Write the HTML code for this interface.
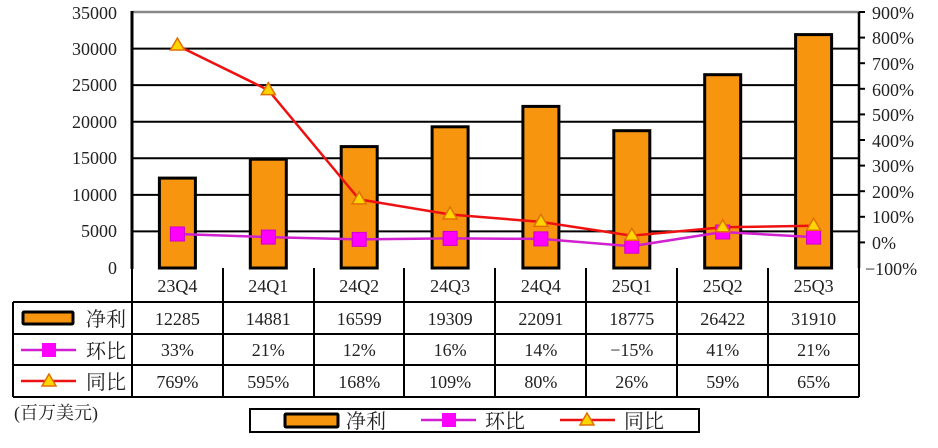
<!DOCTYPE html>
<html><head><meta charset="utf-8"><style>
html,body{margin:0;padding:0;background:#fff;width:938px;height:448px;overflow:hidden}
text{font-family:"Liberation Serif","Noto Serif CJK SC",serif;font-size:18px;fill:#222}
text.cj{font-size:20px}
</style></head><body>
<svg width="938" height="448" viewBox="0 0 938 448" xmlns="http://www.w3.org/2000/svg">
<g stroke="#000" stroke-width="2">
<line x1="132" y1="231.4" x2="859" y2="231.4"/><line x1="132" y1="194.9" x2="859" y2="194.9"/>
<line x1="132" y1="158.3" x2="859" y2="158.3"/><line x1="132" y1="121.7" x2="859" y2="121.7"/>
<line x1="132" y1="85.1" x2="859" y2="85.1"/><line x1="132" y1="48.6" x2="859" y2="48.6"/>
</g>
<line x1="132" y1="12" x2="859" y2="12" stroke="#888" stroke-width="2.5"/>
<g fill="#f7950f" stroke="#000" stroke-width="3">
<rect x="159.4" y="178.1" width="36" height="89.9"/>
<rect x="250.3" y="159.2" width="36" height="108.8"/>
<rect x="341.2" y="146.6" width="36" height="121.4"/>
<rect x="432.1" y="126.8" width="36" height="141.2"/>
<rect x="522.9" y="106.4" width="36" height="161.6"/>
<rect x="613.8" y="130.7" width="36" height="137.3"/>
<rect x="704.7" y="74.7" width="36" height="193.3"/>
<rect x="795.6" y="34.6" width="36" height="233.4"/>
</g>
<polyline fill="none" stroke="#e11" stroke-width="2.5" points="177.4,45.5 268.3,90.1 359.2,199.4 450.1,214.5 540.9,221.9 631.8,235.7 722.7,227.3 813.6,225.8"/>
<polyline fill="none" stroke="#d020d0" stroke-width="2.5" points="177.4,234 268.3,237.1 359.2,239.4 450.1,238.4 540.9,238.9 631.8,246.2 722.7,232 813.6,237.1"/>
<g fill="#ff00ff" stroke="#c0c" stroke-width="1">
<rect x="170.4" y="227" width="14" height="14"/><rect x="261.3" y="230.1" width="14" height="14"/>
<rect x="352.2" y="232.4" width="14" height="14"/><rect x="443.1" y="231.4" width="14" height="14"/>
<rect x="533.9" y="231.9" width="14" height="14"/><rect x="624.8" y="239.2" width="14" height="14"/>
<rect x="715.7" y="225" width="14" height="14"/><rect x="806.6" y="230.1" width="14" height="14"/>
</g>
<g fill="#ffd400" stroke="#e07000" stroke-width="1.5">
<path d="M177.4,38 l7,12 h-14z"/><path d="M268.3,82.6 l7,12 h-14z"/><path d="M359.2,191.9 l7,12 h-14z"/>
<path d="M450.1,207 l7,12 h-14z"/><path d="M540.9,214.4 l7,12 h-14z"/><path d="M631.8,228.2 l7,12 h-14z"/>
<path d="M722.7,219.8 l7,12 h-14z"/><path d="M813.6,218.3 l7,12 h-14z"/>
</g>
<line x1="132" y1="11" x2="132" y2="269" stroke="#000" stroke-width="3"/>
<line x1="859" y1="12" x2="859" y2="268" stroke="#000" stroke-width="2.5"/>
<g stroke="#000" stroke-width="2">
<line x1="859" y1="37.6" x2="865" y2="37.6"/><line x1="859" y1="63.2" x2="865" y2="63.2"/><line x1="859" y1="88.8" x2="865" y2="88.8"/>
<line x1="859" y1="114.4" x2="865" y2="114.4"/><line x1="859" y1="140" x2="865" y2="140"/><line x1="859" y1="165.6" x2="865" y2="165.6"/>
<line x1="859" y1="191.2" x2="865" y2="191.2"/><line x1="859" y1="216.8" x2="865" y2="216.8"/><line x1="859" y1="242.4" x2="865" y2="242.4"/>
<line x1="859" y1="12" x2="865" y2="12"/>
</g>
<g text-anchor="end">
<text x="117" y="19">35000</text><text x="117" y="55">30000</text><text x="117" y="91">25000</text>
<text x="117" y="128">20000</text><text x="117" y="164">15000</text><text x="117" y="201">10000</text>
<text x="117" y="237">5000</text><text x="117" y="274">0</text>
</g>
<g>
<text x="872" y="19">900%</text><text x="872" y="44">800%</text><text x="872" y="70">700%</text>
<text x="872" y="96">600%</text><text x="872" y="121">500%</text><text x="872" y="147">400%</text>
<text x="872" y="172">300%</text><text x="872" y="198">200%</text><text x="872" y="223">100%</text>
<text x="872" y="249">0%</text><text x="865" y="275">−100%</text>
</g>
<g stroke="#000" stroke-width="2" fill="none">
<line x1="132" y1="268" x2="132" y2="397"/>
<line x1="223" y1="268" x2="223" y2="397"/><line x1="314" y1="268" x2="314" y2="397"/>
<line x1="404" y1="268" x2="404" y2="397"/><line x1="495" y1="268" x2="495" y2="397"/>
<line x1="586" y1="268" x2="586" y2="397"/><line x1="677" y1="268" x2="677" y2="397"/>
<line x1="768" y1="268" x2="768" y2="397"/><line x1="859" y1="268" x2="859" y2="397"/>
<line x1="13" y1="302" x2="859" y2="302"/><line x1="13" y1="334" x2="859" y2="334"/>
<line x1="13" y1="365" x2="859" y2="365"/><line x1="13" y1="397" x2="859" y2="397"/>
<line x1="13" y1="302" x2="13" y2="397"/>
</g>
<g text-anchor="middle">
<text x="177.4" y="292">23Q4</text><text x="268.3" y="292">24Q1</text><text x="359.2" y="292">24Q2</text><text x="450.1" y="292">24Q3</text>
<text x="540.9" y="292">24Q4</text><text x="631.8" y="292">25Q1</text><text x="722.7" y="292">25Q2</text><text x="813.6" y="292">25Q3</text>
<text x="177.4" y="325">12285</text><text x="268.3" y="325">14881</text><text x="359.2" y="325">16599</text><text x="450.1" y="325">19309</text>
<text x="540.9" y="325">22091</text><text x="631.8" y="325">18775</text><text x="722.7" y="325">26422</text><text x="813.6" y="325">31910</text>
<text x="177.4" y="356">33%</text><text x="268.3" y="356">21%</text><text x="359.2" y="356">12%</text><text x="450.1" y="356">16%</text>
<text x="540.9" y="356">14%</text><text x="631.8" y="356">−15%</text><text x="722.7" y="356">41%</text><text x="813.6" y="356">21%</text>
<text x="177.4" y="388">769%</text><text x="268.3" y="388">595%</text><text x="359.2" y="388">168%</text><text x="450.1" y="388">109%</text>
<text x="540.9" y="388">80%</text><text x="631.8" y="388">26%</text><text x="722.7" y="388">59%</text><text x="813.6" y="388">65%</text>
</g>
<rect x="23" y="312" width="50" height="12" fill="#f7950f" stroke="#000" stroke-width="3" rx="1"/>
<text class="cj" x="86" y="326">净利</text>
<line x1="21" y1="350" x2="76" y2="350" stroke="#d020d0" stroke-width="2.5"/>
<rect x="42" y="343" width="14" height="14" fill="#ff00ff"/>
<text class="cj" x="86" y="358">环比</text>
<line x1="21" y1="381" x2="76" y2="381" stroke="#e11" stroke-width="2.5"/>
<path d="M49,374 l7,12 h-14z" fill="#ffd400" stroke="#e07000" stroke-width="1.5"/>
<text class="cj" x="86" y="389">同比</text>
<text x="14" y="419">(百万美元)</text>
<rect x="250" y="409" width="449" height="23" fill="#fff" stroke="#000" stroke-width="2"/>
<rect x="285" y="414" width="53" height="13" fill="#f7950f" stroke="#000" stroke-width="3" rx="1"/>
<text class="cj" x="346" y="428">净利</text>
<line x1="421" y1="420" x2="476" y2="420" stroke="#d020d0" stroke-width="2.5"/>
<rect x="442" y="413" width="14" height="14" fill="#ff00ff"/>
<text class="cj" x="485" y="428">环比</text>
<line x1="560" y1="420" x2="615" y2="420" stroke="#e11" stroke-width="2.5"/>
<path d="M587,413 l7,12 h-14z" fill="#ffd400" stroke="#e07000" stroke-width="1.5"/>
<text class="cj" x="624" y="428">同比</text>
</svg>
</body></html>
